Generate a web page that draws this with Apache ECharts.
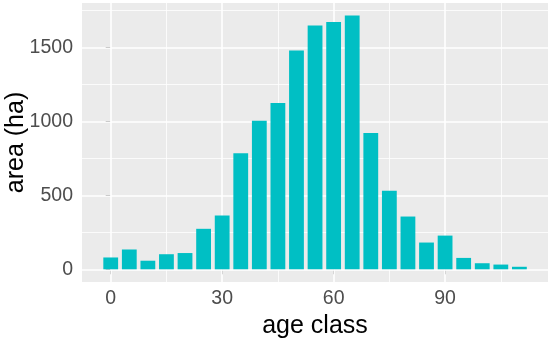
<!DOCTYPE html>
<html>
<head>
<meta charset="utf-8">
<script src="https://cdn.jsdelivr.net/npm/echarts@6/dist/echarts.min.js"></script>
<style>html,body{margin:0;padding:0;background:#fff}#c{width:550px;height:339px}</style>
</head>
<body>
<div id="c"></div>
<script>
var ageClasses = [0,5,10,15,20,25,30,35,40,45,50,55,60,65,70,75,80,85,90,95,100,105,110];
var areas = [80,134,58,102,110,274,364,785,1005,1125,1480,1650,1673,1718,922,531,357,181,228,77,41,32,17];
var xTicks = [0,30,60,90];
var xMinor = [15,45,75,105];
var yTicks = [0,500,1000,1500];
var yMinor = [250,750,1250,1750];

var FONT = 'Liberation Sans, Arial, sans-serif';
var chart = echarts.init(document.getElementById('c'), null, {renderer:'canvas'});

function vLines(vals, w){ return vals.map(function(v){ return {xAxis:v, lineStyle:{color:'#ffffff', width:w, type:'solid'}}; }); }
function hLines(vals, w){ return vals.map(function(v){ return {yAxis:v, lineStyle:{color:'#ffffff', width:w, type:'solid'}}; }); }

chart.setOption({
  animation:false,
  backgroundColor:'#ffffff',
  grid:{left:82, right:2, top:3, bottom:57, show:true, backgroundColor:'#EBEBEB', borderWidth:0,
        containLabel:false, outerBoundsMode:'none'},
  xAxis:{
    type:'value', min:-7.73, max:117.7,
    name:'age class', nameLocation:'middle', nameGap:28,
    nameTextStyle:{fontFamily:FONT, fontSize:25, color:'#000000'},
    axisLine:{show:false},
    axisTick:{show:true, length:5, customValues:xTicks, lineStyle:{color:'#333333', width:1}},
    axisLabel:{customValues:xTicks, margin:7, fontFamily:FONT, fontSize:19.5, color:'#4D4D4D',
               formatter:function(v){ return String(v); }},
    splitLine:{show:false}
  },
  yAxis:{
    type:'value', min:-86, max:1802,
    name:'area (ha)', nameLocation:'middle', nameGap:53, nameRotate:90, nameMoveOverlap:false,
    nameTextStyle:{fontFamily:FONT, fontSize:25, color:'#000000'},
    axisLine:{show:false},
    axisTick:{show:true, length:5, customValues:yTicks, lineStyle:{color:'#333333', width:1}},
    axisLabel:{customValues:yTicks, margin:9, fontFamily:FONT, fontSize:19.5, color:'#4D4D4D',
               formatter:function(v){ return String(v); }},
    splitLine:{show:false}
  },
  series:[
    {
      type:'line', data:[], z:1, silent:true,
      markLine:{silent:true, symbol:['none','none'], label:{show:false}, z:1,
        data: vLines(xMinor,0.8).concat(hLines(yMinor,0.8)).concat(vLines(xTicks,1.6)).concat(hLines(yTicks,1.6))}
    },
    {
      type:'bar', z:10,
      data: ageClasses.map(function(a,i){ return [a, areas[i]]; }),
      barWidth:14.8,
      itemStyle:{color:'#00BFC4'}
    }
  ]
});
</script>
</body>
</html>
